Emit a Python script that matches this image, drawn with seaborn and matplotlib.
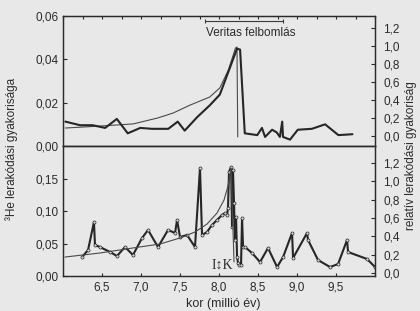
import numpy as np
import pandas as pd
import matplotlib
matplotlib.use("Agg")
import matplotlib.pyplot as plt
import seaborn as sns
from matplotlib.ticker import FixedLocator, FuncFormatter, MultipleLocator

# ---------------- data ----------------
# top panel, thick line (relative rate, right axis)
top_thick_x = [6.03, 6.22, 6.38, 6.54, 6.69, 6.83, 6.99, 7.14, 7.35, 7.47, 7.56, 7.72,
               7.88, 8.01, 8.14, 8.23, 8.27, 8.33, 8.49, 8.55, 8.59, 8.68, 8.74, 8.78,
               8.81, 8.82, 8.91, 9.01, 9.19, 9.36, 9.53, 9.71]
top_thick_y = [0.16, 0.12, 0.12, 0.09, 0.19, 0.03, 0.09, 0.08, 0.08, 0.16, 0.06, 0.21,
               0.34, 0.46, 0.76, 0.97, 0.96, 0.03, 0.01, 0.09, -0.01, 0.07, 0.04, -0.01,
               0.16, -0.01, -0.04, 0.07, 0.08, 0.13, 0.01, 0.02]
# top panel, thin line (3He rate, left axis)
top_thin_x = [6.03, 6.47, 6.90, 7.21, 7.41, 7.63, 7.88, 8.01, 8.12, 8.21, 8.23, 8.24]
top_thin_y = [0.0083, 0.0092, 0.0102, 0.0129, 0.0152, 0.0189, 0.0226, 0.0268,
              0.0351, 0.0452, 0.0457, 0.0042]

# bottom panel, thick line with markers (3He rate, left axis)
bot_thick_x = [6.244, 6.321, 6.397, 6.410, 6.474, 6.603, 6.692, 6.795, 6.897, 7.013,
               7.090, 7.218, 7.346, 7.436, 7.462, 7.500, 7.590, 7.692, 7.756, 7.782,
               7.846, 7.910, 7.974, 8.038, 8.077, 8.103, 8.115, 8.128, 8.154, 8.167,
               8.179, 8.192, 8.205, 8.218, 8.231, 8.244, 8.256, 8.282, 8.295, 8.308,
               8.333, 8.423, 8.526, 8.628, 8.744, 8.821, 8.936, 8.949, 9.128, 9.141,
               9.269, 9.423, 9.526, 9.641, 9.654, 9.897, 10.0]
bot_thick_y = [0.0292, 0.0400, 0.0830, 0.0477, 0.0446, 0.0369, 0.0308, 0.0446, 0.0323, 0.0585,
               0.0708, 0.0446, 0.0708, 0.0662, 0.0862, 0.0600, 0.0631, 0.0446, 0.1660, 0.0631,
               0.0677, 0.0785, 0.0862, 0.0938, 0.0969, 0.0938, 0.1046, 0.1600, 0.1677, 0.0754,
               0.1630, 0.1123, 0.0554, 0.0908, 0.0292, 0.0200, 0.0169, 0.0169, 0.0890, 0.0446,
               0.0446, 0.0354, 0.0215, 0.0431, 0.0138, 0.0292, 0.0662, 0.0277, 0.0662, 0.0554,
               0.0246, 0.0138, 0.0185, 0.0554, 0.0369, 0.0262, 0.0138]
# bottom panel, thin smooth line (relative rate, right axis)
bot_thin_x = [6.026, 6.474, 6.897, 7.244, 7.500, 7.692, 7.846, 7.974, 8.064, 8.115, 8.154, 8.192]
bot_thin_y = [0.174, 0.218, 0.273, 0.316, 0.382, 0.447, 0.534, 0.654, 0.796, 0.949, 1.145, 0.120]

x_ticks = [6.5, 7.0, 7.5, 8.0, 8.5, 9.0, 9.5]
top_left_ticks = [0.00, 0.02, 0.04, 0.06]
bot_left_ticks = [0.00, 0.05, 0.10, 0.15]
right_ticks = [0.0, 0.2, 0.4, 0.6, 0.8, 1.0, 1.2]
veritas_span = [7.82, 8.82]
veritas_label = "Veritas felbomlás"
ik_label = "I\u2195K"

# ---------------- style ----------------
sns.set_theme(style="white")
plt.rcParams["font.family"] = ["Liberation Sans", "DejaVu Sans"]
BG = "#e8e8e8"
INK = "#2b2b2b"
plt.rcParams.update({"text.color": INK, "axes.labelcolor": INK,
                     "xtick.color": INK, "ytick.color": INK,
                     "axes.edgecolor": INK})

fig = plt.figure(figsize=(4.2, 3.11), dpi=100, facecolor=BG)
L, W, H = 0.150, 0.743, 0.418
ax_top = fig.add_axes([L, 0.5305, W, H], facecolor=BG)
ax_bot = fig.add_axes([L, 0.1125, W, H], facecolor=BG)
ax_top_r = ax_top.twinx()
ax_bot_r = ax_bot.twinx()

thick_kw = dict(color="#262626", linewidth=1.5, estimator=None, sort=False, legend=False)
thin_kw = dict(color="#4a4a4a", linewidth=0.8, estimator=None, sort=False, legend=False)

df_tt = pd.DataFrame({"x": top_thick_x, "y": top_thick_y})
df_tn = pd.DataFrame({"x": top_thin_x, "y": top_thin_y})
df_bt = pd.DataFrame({"x": bot_thick_x, "y": bot_thick_y})
df_bn = pd.DataFrame({"x": bot_thin_x, "y": bot_thin_y})

sns.lineplot(data=df_tn, x="x", y="y", ax=ax_top, **thin_kw)
sns.lineplot(data=df_tt, x="x", y="y", ax=ax_top_r, **thick_kw)
sns.lineplot(data=df_bn, x="x", y="y", ax=ax_bot_r, **thin_kw)
sns.lineplot(data=df_bt, x="x", y="y", ax=ax_bot, marker="o", markersize=2.2,
             markerfacecolor="#d8d8d8", markeredgecolor="#262626", markeredgewidth=0.5,
             **thick_kw)

# ---------------- axes ----------------
for a in (ax_top, ax_bot, ax_top_r, ax_bot_r):
    a.set_xlim(6.0, 10.0)
    a.set_xlabel("")
    a.set_ylabel("")
    for s in a.spines.values():
        s.set_linewidth(0.9)
        s.set_color(INK)

ax_top.set_ylim(0.0, 0.06)
ax_top_r.set_ylim(-0.111, 1.333)
ax_bot.set_ylim(0.0, 0.2)
ax_bot_r.set_ylim(-0.033, 1.385)

comma2 = FuncFormatter(lambda v, p: f"{v:.2f}".replace(".", ","))
comma1 = FuncFormatter(lambda v, p: f"{v:.1f}".replace(".", ","))

ax_top.yaxis.set_major_locator(FixedLocator(top_left_ticks))
ax_top.yaxis.set_major_formatter(comma2)
ax_bot.yaxis.set_major_locator(FixedLocator(bot_left_ticks))
ax_bot.yaxis.set_major_formatter(comma2)
for a in (ax_top_r, ax_bot_r):
    a.yaxis.set_major_locator(FixedLocator(right_ticks))
    a.yaxis.set_major_formatter(comma1)

ax_bot.xaxis.set_major_locator(FixedLocator(x_ticks))
ax_bot.xaxis.set_major_formatter(comma1)
for a in (ax_top, ax_bot):
    a.xaxis.set_minor_locator(MultipleLocator(0.25))
ax_top.xaxis.set_major_locator(FixedLocator(x_ticks))
ax_top.tick_params(axis="x", which="both", labelbottom=False, top=True, bottom=False)

for a in (ax_top, ax_bot):
    a.tick_params(axis="y", direction="in", length=3, width=0.8, labelsize=8.5, pad=3,
                  left=True)
    a.tick_params(axis="x", which="both", direction="in", length=2.5, width=0.8,
                  labelsize=8.5, pad=4)
ax_bot.tick_params(axis="x", bottom=True)
for a in (ax_top_r, ax_bot_r):
    a.tick_params(axis="y", direction="in", length=3, width=0.8, labelsize=8.5, pad=6,
                  right=True)

# ---------------- annotations ----------------
ax_top_r.plot(veritas_span, [1.28, 1.28], color="#3a3a3a", lw=0.8,
              marker="|", markersize=3, markeredgewidth=0.8)
ax_top_r.text(veritas_span[0] + 0.01, 1.145, veritas_label, fontsize=8.5,
              ha="left", va="center", color=INK)
ax_bot.text(8.04, 0.017, ik_label, fontsize=10, ha="center", va="center",
            family=["Liberation Serif", "DejaVu Sans"], color=INK)

fig.text(0.028, 0.52, "³He lerakódási gyakorisága", rotation=90, fontsize=8.5,
         ha="center", va="center", color=INK)
fig.text(0.978, 0.50, "relatív lerakódási gyakoriság", rotation=90, fontsize=8.5,
         ha="center", va="center", color=INK)
fig.text(0.531, 0.022, "kor (millió év)", fontsize=9, ha="center", va="center", color=INK)

fig.savefig("out.png", dpi=100, facecolor=BG)
